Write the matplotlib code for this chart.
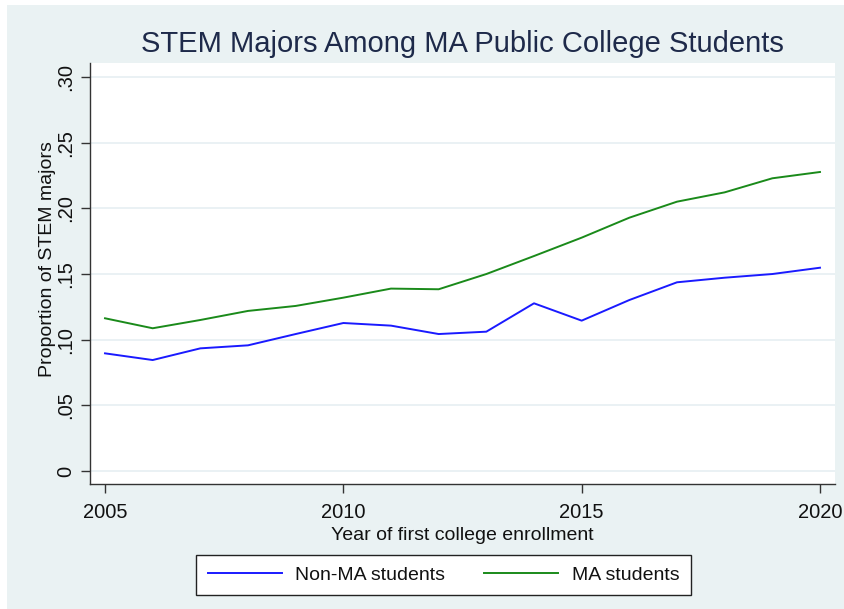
import matplotlib.pyplot as plt
from matplotlib.patches import Rectangle

plt.rcParams['font.family'] = ['Liberation Sans', 'DejaVu Sans']

years = list(range(2005, 2021))
non_ma = [0.0896, 0.0845, 0.0934, 0.0957, 0.1043, 0.1127, 0.1107, 0.1043,
          0.1061, 0.1277, 0.1145, 0.1302, 0.1437, 0.1472, 0.1500, 0.1548]
ma = [0.1163, 0.1087, 0.1150, 0.1219, 0.1257, 0.1320, 0.1389, 0.1384,
      0.1500, 0.1637, 0.1777, 0.1929, 0.2051, 0.2122, 0.2229, 0.2277]
yticks = [0, 0.05, 0.10, 0.15, 0.20, 0.25, 0.30]
ytick_labels = ["0", ".05", ".10", ".15", ".20", ".25", ".30"]
xticks = [2005, 2010, 2015, 2020]

bg = '#eaf2f3'
W, H = 844, 609
fig = plt.figure(figsize=(W / 100, H / 100), dpi=100, facecolor=bg)
# thin white margin on the top and left edges, as in the screenshot
fig.patches.append(Rectangle((0, 1 - 5 / H), 1, 5 / H, transform=fig.transFigure,
                             facecolor='white', edgecolor='none'))
fig.patches.append(Rectangle((0, 0), 7 / W, 1, transform=fig.transFigure,
                             facecolor='white', edgecolor='none'))

ax = fig.add_axes([90 / W, 1 - 484 / H, (835 - 90) / W, (484 - 63) / H])
ax.set_facecolor('white')
ax.plot(years, non_ma, color='#1a1aff', lw=1.4, label='Non-MA students')
ax.plot(years, ma, color='#1a8a1a', lw=1.4, label='MA students')

ax.set_xlim(2004.685, 2020.315)
ax.set_ylim(-0.0099, 0.3107)
ax.set_xticks(xticks)
ax.set_yticks(yticks)
ax.set_yticklabels(ytick_labels, rotation=90, va='center')
ax.grid(axis='y', color='#e6eff2', lw=1.2)
ax.set_axisbelow(True)

for s in ['top', 'right']:
    ax.spines[s].set_visible(False)
for s in ['left', 'bottom']:
    ax.spines[s].set_color('#333333')
    ax.spines[s].set_linewidth(1.0)
ax.tick_params(direction='out', length=6.5, width=1, color='#333333',
               labelsize=14.5, labelcolor='#111111', pad=4)
ax.tick_params(axis='x', pad=7)

ax.set_xlabel('Year of first college enrollment', fontsize=14, color='#111111', labelpad=3.5)
ax.set_ylabel('Proportion of STEM majors', fontsize=14, color='#111111')
ax.yaxis.set_label_coords(-0.046, 0.534)
ax.set_title('STEM Majors Among MA Public College Students', fontsize=21,
             color='#1e2a4a', pad=8)

leg = fig.legend(loc='center', bbox_to_anchor=(443.5 / W, 1 - 575 / H), ncol=2,
                 fontsize=14, frameon=True, fancybox=False, framealpha=1,
                 handlelength=3.8, handletextpad=0.7, columnspacing=2.0,
                 borderpad=0.6)
leg.get_frame().set_edgecolor('#222222')
leg.get_frame().set_linewidth(1.0)
leg.get_frame().set_facecolor('white')
for t in leg.get_texts():
    t.set_color('#111111')

fig.savefig('out.png', dpi=100, facecolor=fig.get_facecolor())
